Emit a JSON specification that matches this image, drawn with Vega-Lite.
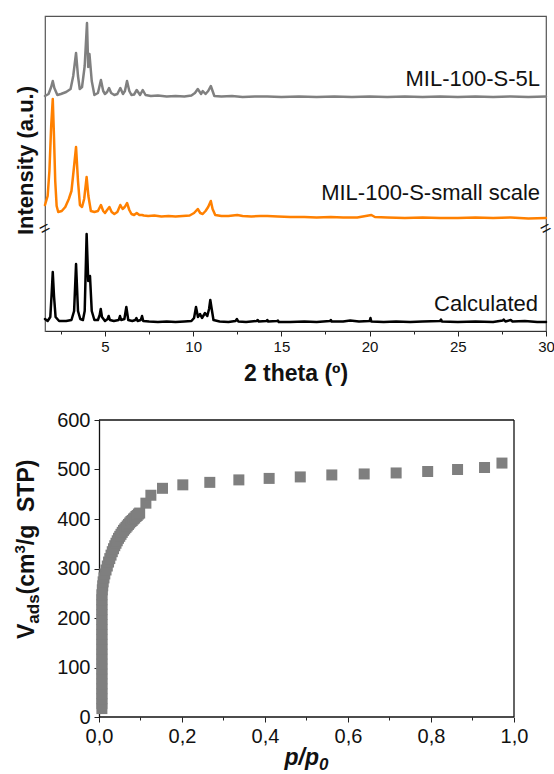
{
"$schema": "https://vega.github.io/schema/vega-lite/v6.json",
"padding": {"left": 12, "top": 15, "right": 0, "bottom": 0},
"config": {"font": "Liberation Sans", "axis": {"grid": false, "domainColor": "#222", "tickColor": "#222", "labelColor": "#111", "titleColor": "#111", "labelFont": "Liberation Sans", "titleFont": "Liberation Sans"}},
"datasets": {
"xrd": [
{"s":"calc","t":1.6,"v":12},{"s":"calc","t":1.75,"v":10},{"s":"calc","t":1.9,"v":14},{"s":"calc","t":1.97,"v":35},{"s":"calc","t":2.04,"v":59},{"s":"calc","t":2.11,"v":35},{"s":"calc","t":2.2,"v":14},{"s":"calc","t":2.4,"v":10},{"s":"calc","t":2.8,"v":10},{"s":"calc","t":3.1,"v":11},{"s":"calc","t":3.25,"v":20},{"s":"calc","t":3.36,"v":67},{"s":"calc","t":3.47,"v":20},{"s":"calc","t":3.6,"v":12},{"s":"calc","t":3.75,"v":11},{"s":"calc","t":3.85,"v":20},{"s":"calc","t":3.96,"v":97},{"s":"calc","t":4.05,"v":50},{"s":"calc","t":4.15,"v":55},{"s":"calc","t":4.25,"v":20},{"s":"calc","t":4.4,"v":11},{"s":"calc","t":4.6,"v":11},{"s":"calc","t":4.7,"v":16},{"s":"calc","t":4.76,"v":22},{"s":"calc","t":4.83,"v":14},{"s":"calc","t":5.0,"v":10},{"s":"calc","t":5.15,"v":12},{"s":"calc","t":5.21,"v":15},{"s":"calc","t":5.28,"v":11},{"s":"calc","t":5.5,"v":10},{"s":"calc","t":5.78,"v":11},{"s":"calc","t":5.85,"v":15},{"s":"calc","t":5.92,"v":11},{"s":"calc","t":6.1,"v":12},{"s":"calc","t":6.21,"v":24},{"s":"calc","t":6.32,"v":11},{"s":"calc","t":6.55,"v":10},{"s":"calc","t":6.72,"v":11},{"s":"calc","t":6.78,"v":13},{"s":"calc","t":6.85,"v":10},{"s":"calc","t":7.03,"v":11},{"s":"calc","t":7.1,"v":15},{"s":"calc","t":7.17,"v":10},{"s":"calc","t":7.5,"v":9.5},{"s":"calc","t":8.0,"v":9},{"s":"calc","t":8.5,"v":9.5},{"s":"calc","t":9.0,"v":9},{"s":"calc","t":9.5,"v":9.5},{"s":"calc","t":9.9,"v":10},{"s":"calc","t":10.05,"v":13},{"s":"calc","t":10.16,"v":24},{"s":"calc","t":10.27,"v":14},{"s":"calc","t":10.39,"v":17},{"s":"calc","t":10.5,"v":13},{"s":"calc","t":10.67,"v":18},{"s":"calc","t":10.8,"v":15},{"s":"calc","t":10.9,"v":22},{"s":"calc","t":10.97,"v":31},{"s":"calc","t":11.05,"v":22},{"s":"calc","t":11.15,"v":11},{"s":"calc","t":11.5,"v":9.5},{"s":"calc","t":12.0,"v":9},{"s":"calc","t":12.4,"v":10},{"s":"calc","t":12.48,"v":12},{"s":"calc","t":12.56,"v":9.5},{"s":"calc","t":13.0,"v":9},{"s":"calc","t":13.6,"v":10},{"s":"calc","t":13.66,"v":11},{"s":"calc","t":13.72,"v":9.5},{"s":"calc","t":14.15,"v":10},{"s":"calc","t":14.2,"v":11},{"s":"calc","t":14.25,"v":9.5},{"s":"calc","t":14.75,"v":10},{"s":"calc","t":14.8,"v":10.5},{"s":"calc","t":14.85,"v":9},{"s":"calc","t":15.5,"v":9},{"s":"calc","t":16.3,"v":9.5},{"s":"calc","t":17.0,"v":9},{"s":"calc","t":17.75,"v":10},{"s":"calc","t":17.8,"v":11},{"s":"calc","t":17.85,"v":9.5},{"s":"calc","t":18.5,"v":9.5},{"s":"calc","t":18.9,"v":10.5},{"s":"calc","t":19.4,"v":9.5},{"s":"calc","t":20.0,"v":10},{"s":"calc","t":20.05,"v":13},{"s":"calc","t":20.1,"v":9.5},{"s":"calc","t":20.8,"v":9},{"s":"calc","t":21.5,"v":9.5},{"s":"calc","t":22.3,"v":9},{"s":"calc","t":23.0,"v":9.5},{"s":"calc","t":24.0,"v":10},{"s":"calc","t":24.05,"v":11.5},{"s":"calc","t":24.1,"v":9.5},{"s":"calc","t":25.0,"v":9},{"s":"calc","t":26.0,"v":9.5},{"s":"calc","t":27.0,"v":9},{"s":"calc","t":27.55,"v":10.5},{"s":"calc","t":27.6,"v":11.5},{"s":"calc","t":27.7,"v":9.5},{"s":"calc","t":28.0,"v":11},{"s":"calc","t":28.1,"v":9.5},{"s":"calc","t":28.8,"v":10},{"s":"calc","t":29.5,"v":9},{"s":"calc","t":30.0,"v":9},
{"s":"small","t":1.6,"v":126},{"s":"small","t":1.75,"v":135},{"s":"small","t":1.85,"v":160},{"s":"small","t":1.95,"v":205},{"s":"small","t":2.04,"v":232},{"s":"small","t":2.1,"v":200},{"s":"small","t":2.18,"v":150},{"s":"small","t":2.26,"v":125},{"s":"small","t":2.35,"v":119},{"s":"small","t":2.55,"v":120},{"s":"small","t":2.75,"v":124},{"s":"small","t":2.95,"v":132},{"s":"small","t":3.1,"v":140},{"s":"small","t":3.22,"v":160},{"s":"small","t":3.36,"v":184},{"s":"small","t":3.47,"v":150},{"s":"small","t":3.58,"v":126},{"s":"small","t":3.7,"v":124},{"s":"small","t":3.82,"v":132},{"s":"small","t":3.96,"v":154},{"s":"small","t":4.06,"v":135},{"s":"small","t":4.2,"v":120},{"s":"small","t":4.4,"v":119},{"s":"small","t":4.6,"v":120},{"s":"small","t":4.77,"v":126},{"s":"small","t":4.9,"v":120},{"s":"small","t":5.0,"v":118},{"s":"small","t":5.12,"v":121},{"s":"small","t":5.25,"v":124},{"s":"small","t":5.38,"v":119},{"s":"small","t":5.53,"v":117},{"s":"small","t":5.7,"v":119},{"s":"small","t":5.87,"v":126},{"s":"small","t":6.0,"v":122},{"s":"small","t":6.12,"v":124},{"s":"small","t":6.25,"v":128},{"s":"small","t":6.38,"v":121},{"s":"small","t":6.5,"v":117},{"s":"small","t":6.65,"v":116},{"s":"small","t":6.8,"v":118},{"s":"small","t":6.95,"v":116},{"s":"small","t":7.1,"v":116},{"s":"small","t":7.2,"v":115.5},{"s":"small","t":7.45,"v":115},{"s":"small","t":7.8,"v":115.5},{"s":"small","t":8.2,"v":114.5},{"s":"small","t":8.6,"v":115},{"s":"small","t":9.0,"v":114.5},{"s":"small","t":9.4,"v":115},{"s":"small","t":9.8,"v":115.5},{"s":"small","t":10.05,"v":118},{"s":"small","t":10.26,"v":122},{"s":"small","t":10.4,"v":118},{"s":"small","t":10.54,"v":117},{"s":"small","t":10.7,"v":120},{"s":"small","t":10.85,"v":124},{"s":"small","t":11.0,"v":130},{"s":"small","t":11.1,"v":122},{"s":"small","t":11.25,"v":116},{"s":"small","t":11.6,"v":115},{"s":"small","t":12.0,"v":115},{"s":"small","t":12.5,"v":116},{"s":"small","t":12.8,"v":115},{"s":"small","t":13.3,"v":114.5},{"s":"small","t":13.8,"v":115},{"s":"small","t":14.2,"v":115},{"s":"small","t":14.8,"v":114.5},{"s":"small","t":15.5,"v":114},{"s":"small","t":16.3,"v":114},{"s":"small","t":17.0,"v":113.5},{"s":"small","t":17.8,"v":114},{"s":"small","t":18.5,"v":113.5},{"s":"small","t":19.3,"v":113.5},{"s":"small","t":20.1,"v":116},{"s":"small","t":20.3,"v":114},{"s":"small","t":21.0,"v":113.5},{"s":"small","t":22.0,"v":113},{"s":"small","t":23.0,"v":113.5},{"s":"small","t":24.0,"v":113},{"s":"small","t":25.0,"v":113},{"s":"small","t":26.0,"v":113.5},{"s":"small","t":27.0,"v":113},{"s":"small","t":28.0,"v":113.5},{"s":"small","t":29.0,"v":112.5},{"s":"small","t":30.0,"v":113},
{"s":"5L","t":1.6,"v":235},{"s":"5L","t":1.8,"v":237},{"s":"5L","t":1.95,"v":244},{"s":"5L","t":2.04,"v":250},{"s":"5L","t":2.13,"v":243},{"s":"5L","t":2.3,"v":236},{"s":"5L","t":2.5,"v":237},{"s":"5L","t":2.8,"v":239},{"s":"5L","t":3.05,"v":242},{"s":"5L","t":3.2,"v":255},{"s":"5L","t":3.36,"v":278},{"s":"5L","t":3.47,"v":255},{"s":"5L","t":3.57,"v":242},{"s":"5L","t":3.7,"v":244},{"s":"5L","t":3.85,"v":265},{"s":"5L","t":3.98,"v":308},{"s":"5L","t":4.05,"v":264},{"s":"5L","t":4.12,"v":277},{"s":"5L","t":4.25,"v":250},{"s":"5L","t":4.4,"v":236},{"s":"5L","t":4.6,"v":238},{"s":"5L","t":4.77,"v":251},{"s":"5L","t":4.9,"v":240},{"s":"5L","t":5.0,"v":237},{"s":"5L","t":5.12,"v":239},{"s":"5L","t":5.23,"v":243},{"s":"5L","t":5.35,"v":238},{"s":"5L","t":5.53,"v":236},{"s":"5L","t":5.7,"v":237},{"s":"5L","t":5.87,"v":243},{"s":"5L","t":6.02,"v":237},{"s":"5L","t":6.13,"v":240},{"s":"5L","t":6.25,"v":250},{"s":"5L","t":6.38,"v":240},{"s":"5L","t":6.5,"v":236},{"s":"5L","t":6.65,"v":236.5},{"s":"5L","t":6.8,"v":241},{"s":"5L","t":6.99,"v":236},{"s":"5L","t":7.14,"v":241},{"s":"5L","t":7.3,"v":236},{"s":"5L","t":7.6,"v":235},{"s":"5L","t":8.0,"v":235.5},{"s":"5L","t":8.5,"v":234.5},{"s":"5L","t":9.0,"v":235},{"s":"5L","t":9.5,"v":234.5},{"s":"5L","t":9.9,"v":235.5},{"s":"5L","t":10.1,"v":238},{"s":"5L","t":10.26,"v":242},{"s":"5L","t":10.45,"v":237},{"s":"5L","t":10.54,"v":240},{"s":"5L","t":10.7,"v":237},{"s":"5L","t":10.85,"v":240},{"s":"5L","t":11.0,"v":245},{"s":"5L","t":11.1,"v":240},{"s":"5L","t":11.2,"v":235},{"s":"5L","t":11.6,"v":234.5},{"s":"5L","t":12.2,"v":235},{"s":"5L","t":12.8,"v":234},{"s":"5L","t":13.5,"v":234.5},{"s":"5L","t":14.2,"v":234.5},{"s":"5L","t":15.0,"v":234},{"s":"5L","t":16.0,"v":234.5},{"s":"5L","t":17.0,"v":234},{"s":"5L","t":18.0,"v":234.5},{"s":"5L","t":19.0,"v":234},{"s":"5L","t":20.0,"v":234.5},{"s":"5L","t":21.0,"v":234},{"s":"5L","t":22.0,"v":234.5},{"s":"5L","t":23.0,"v":234},{"s":"5L","t":24.0,"v":234.5},{"s":"5L","t":25.0,"v":234},{"s":"5L","t":26.0,"v":234.5},{"s":"5L","t":27.0,"v":234},{"s":"5L","t":28.0,"v":234.5},{"s":"5L","t":29.0,"v":234},{"s":"5L","t":30.0,"v":234.5}
],
"labels": [
{"label":"MIL-100-S-5L","t":29.66,"v":245},
{"label":"MIL-100-S-small scale","t":29.66,"v":131},
{"label":"Calculated","t":29.55,"v":20}
],
"iso": [
{"p":0.007,"q":17},{"p":0.007,"q":27},{"p":0.007,"q":37},{"p":0.007,"q":47},{"p":0.007,"q":57},{"p":0.007,"q":67},{"p":0.007,"q":77},{"p":0.007,"q":87},{"p":0.007,"q":97},{"p":0.007,"q":107},{"p":0.007,"q":117},{"p":0.007,"q":127},{"p":0.007,"q":137},{"p":0.007,"q":147},{"p":0.007,"q":157},{"p":0.007,"q":167},{"p":0.007,"q":177},{"p":0.007,"q":187},{"p":0.007,"q":197},{"p":0.007,"q":207},{"p":0.007,"q":217},{"p":0.007,"q":227},{"p":0.007,"q":237},{"p":0.007,"q":247},{"p":0.008,"q":257},{"p":0.009,"q":265},
{"p":0.010,"q":273},{"p":0.012,"q":281},{"p":0.014,"q":289},{"p":0.017,"q":297},{"p":0.020,"q":305},{"p":0.023,"q":313},{"p":0.026,"q":320},{"p":0.029,"q":327},{"p":0.032,"q":334},{"p":0.035,"q":340},{"p":0.038,"q":346},{"p":0.041,"q":351},{"p":0.044,"q":356},{"p":0.047,"q":361},{"p":0.050,"q":365},{"p":0.053,"q":369},{"p":0.056,"q":373},{"p":0.059,"q":377},{"p":0.062,"q":380},{"p":0.065,"q":383},{"p":0.068,"q":386},{"p":0.071,"q":389},{"p":0.074,"q":392},{"p":0.077,"q":395},{"p":0.080,"q":397},{"p":0.083,"q":400},{"p":0.086,"q":402},{"p":0.089,"q":405},{"p":0.092,"q":407},{"p":0.095,"q":410},{"p":0.098,"q":412},
{"p":0.113,"q":432},{"p":0.125,"q":448},{"p":0.153,"q":462},{"p":0.202,"q":469},{"p":0.267,"q":474},{"p":0.337,"q":479},{"p":0.41,"q":482},{"p":0.485,"q":485},{"p":0.561,"q":489},{"p":0.639,"q":491},{"p":0.716,"q":493},{"p":0.792,"q":496},{"p":0.864,"q":500},{"p":0.929,"q":504},{"p":0.971,"q":513}
]
},
"vconcat": [
{"hconcat": [
{
"width": 501, "height": 315,
"view": {"stroke": "#555", "strokeWidth": 1.2},
"layer": [
{"data": {"name": "xrd"},
 "mark": {"type": "line", "strokeWidth": 2.5, "strokeJoin": "round", "strokeCap": "round"},
 "encoding": {
  "x": {"field": "t", "type": "quantitative", "scale": {"domain": [1.6, 30], "nice": false, "zero": false},
   "axis": {"values": [2.5,5,7.5,10,12.5,15,17.5,20,22.5,25,27.5,30], "labelExpr": "datum.value % 5 === 0 ? datum.label : ''", "labelFontSize": 15, "labelFlush": false, "labelOverlap": false, "labelPadding": 3,
    "tickSize": {"condition": {"test": "datum.value % 5 !== 0", "value": 3}, "value": 5}, "tickWidth": 1,
    "domainColor": "#333", "title": "2 theta (º)", "titleFontSize": 23, "titleFontWeight": "bold", "titlePadding": 8}},
  "y": {"field": "v", "type": "quantitative", "scale": {"domain": [0, 315], "nice": false, "zero": false},
   "axis": {"labels": false, "ticks": false, "domainColor": "#666", "title": "Intensity (a.u.)", "titleFontSize": 22, "titleFontWeight": "bold", "titlePadding": 8, "titleY": 144}},
  "color": {"field": "s", "type": "nominal", "scale": {"domain": ["calc", "small", "5L"], "range": ["#000000", "#ff8000", "#808080"]}, "legend": null}
 }},
{"data": {"name": "labels"},
 "mark": {"type": "text", "align": "right", "baseline": "alphabetic", "fontSize": 22, "color": "#111"},
 "encoding": {"x": {"field": "t", "type": "quantitative"}, "y": {"field": "v", "type": "quantitative"}, "text": {"field": "label"}}},
{"data": {"values": [{}]},
 "mark": {"type": "text", "text": "=", "angle": -28, "fontSize": 18, "align": "center", "baseline": "middle", "color": "#111"},
 "encoding": {"x": {"datum": 1.6, "type": "quantitative"}, "y": {"datum": 102, "type": "quantitative"}}},
{"data": {"values": [{}]},
 "mark": {"type": "text", "text": "=", "angle": -28, "fontSize": 18, "align": "center", "baseline": "middle", "color": "#111"},
 "encoding": {"x": {"datum": 30, "type": "quantitative"}, "y": {"datum": 102, "type": "quantitative"}}}
]
}
]},
{"hconcat": [
{
"width": 469, "height": 297,
"view": {"stroke": null},
"layer": [
{"data": {"name": "iso"},
 "mark": {"type": "point", "shape": "square", "filled": true, "size": 121, "color": "#7f7f7f", "opacity": 1},
 "encoding": {
  "x": {"field": "p", "type": "quantitative", "scale": {"domain": [-0.1301, 1], "nice": false, "zero": false},
   "axis": {"values": [0,0.1,0.2,0.3,0.4,0.5,0.6,0.7,0.8,0.9,1.0], "labelExpr": "round(datum.value*10) % 2 === 0 ? replace(format(datum.value, '.1f'), '.', ',') : ''", "labelFontSize": 20, "labelFlush": false, "labelOverlap": false, "labelPadding": 4, "domain": false,
    "tickSize": {"condition": {"test": "round(datum.value*10) % 2 !== 0", "value": 3}, "value": 5}, "title": null}},
  "y": {"field": "q", "type": "quantitative", "scale": {"domain": [0, 600], "nice": false, "zero": true},
   "axis": {"values": [0,50,100,150,200,250,300,350,400,450,500,550,600], "labelExpr": "datum.value % 100 === 0 ? datum.label : ''", "labelFontSize": 20, "labelOverlap": false, "labelFlush": false, "labelPadding": 4, "offset": -54, "domainColor": "#111", "domainWidth": 1.3,
    "tickSize": {"condition": {"test": "datum.value % 100 !== 0", "value": 3}, "value": 5}, "title": null}}
 }},
{"data": {"values": [{}]},
 "mark": {"type": "rule", "color": "#111", "strokeWidth": 1.3},
 "encoding": {"x": {"datum": 0, "type": "quantitative"}, "x2": {"datum": 1}, "y": {"datum": 0, "type": "quantitative"}}},
{"data": {"values": [{}]},
 "mark": {"type": "rule", "color": "#111", "strokeWidth": 1.3},
 "encoding": {"x": {"datum": 0, "type": "quantitative"}, "x2": {"datum": 1}, "y": {"datum": 600, "type": "quantitative"}}},
{"data": {"values": [{}]},
 "mark": {"type": "rule", "color": "#111", "strokeWidth": 1.3},
 "encoding": {"x": {"datum": 1, "type": "quantitative"}, "y": {"datum": 0, "type": "quantitative"}, "y2": {"datum": 600}}},
{"data": {"values": [{}]},
 "mark": {"type": "text", "text": "V", "angle": 270, "align": "left", "baseline": "alphabetic", "fontSize": 23, "fontWeight": "bold", "dx": 0, "dy": -65, "color": "#111"},
 "encoding": {"x": {"datum": 0, "type": "quantitative"}, "y": {"datum": 157.6, "type": "quantitative"}}},
{"data": {"values": [{}]},
 "mark": {"type": "text", "text": "ads", "angle": 270, "align": "left", "baseline": "alphabetic", "fontSize": 17, "fontWeight": "bold", "dx": 15.3, "dy": -60, "color": "#111"},
 "encoding": {"x": {"datum": 0, "type": "quantitative"}, "y": {"datum": 157.6, "type": "quantitative"}}},
{"data": {"values": [{}]},
 "mark": {"type": "text", "text": "(cm", "angle": 270, "align": "left", "baseline": "alphabetic", "fontSize": 23, "fontWeight": "bold", "dx": 44.6, "dy": -65, "color": "#111"},
 "encoding": {"x": {"datum": 0, "type": "quantitative"}, "y": {"datum": 157.6, "type": "quantitative"}}},
{"data": {"values": [{}]},
 "mark": {"type": "text", "text": "3", "angle": 270, "align": "left", "baseline": "alphabetic", "fontSize": 15, "fontWeight": "bold", "dx": 85.5, "dy": -74, "color": "#111"},
 "encoding": {"x": {"datum": 0, "type": "quantitative"}, "y": {"datum": 157.6, "type": "quantitative"}}},
{"data": {"values": [{}]},
 "mark": {"type": "text", "text": "/g\u00a0 STP)", "angle": 270, "align": "left", "baseline": "alphabetic", "fontSize": 23, "fontWeight": "bold", "dx": 93.8, "dy": -65, "color": "#111"},
 "encoding": {"x": {"datum": 0, "type": "quantitative"}, "y": {"datum": 157.6, "type": "quantitative"}}},
{"data": {"values": [{}]},
 "mark": {"type": "text", "text": "p/p", "align": "left", "baseline": "alphabetic", "fontSize": 23, "fontWeight": "bold", "fontStyle": "italic", "dx": -22, "dy": 48, "color": "#111"},
 "encoding": {"x": {"datum": 0.5, "type": "quantitative"}, "y": {"datum": 0, "type": "quantitative"}}},
{"data": {"values": [{}]},
 "mark": {"type": "text", "text": "0", "align": "left", "baseline": "alphabetic", "fontSize": 17, "fontWeight": "bold", "fontStyle": "italic", "dx": 12.5, "dy": 53, "color": "#111"},
 "encoding": {"x": {"datum": 0.5, "type": "quantitative"}, "y": {"datum": 0, "type": "quantitative"}}}
]
}
]}
],
"spacing": 24
}
